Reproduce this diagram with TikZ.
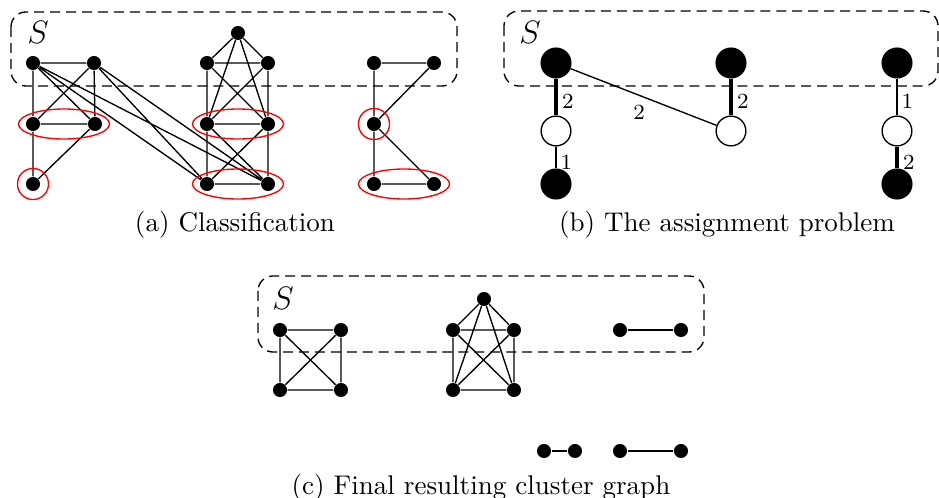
\documentclass[tikz,border=0pt]{standalone}
\usetikzlibrary{shapes.geometric}
\begin{document}
\begin{tikzpicture}[x=0.37pt,y=-0.37pt,
  dot/.style={circle,fill=black,inner sep=0pt,minimum size=5.2pt},
  bigdot/.style={circle,draw=black,fill=black,line width=0.5pt,inner sep=0pt,minimum size=11pt},
  opendot/.style={bigdot,fill=white},
  link/.style={line width=0.5pt},
  heavy/.style={line width=1.6pt},
  setbox/.style={line width=0.5pt,dash pattern=on 3.7pt off 2.2pt,rounded corners=5.5pt},
  classring/.style={ellipse,draw=red,line width=0.5pt,inner sep=0pt},
  wlabel/.style={font=\footnotesize,inner sep=1.5pt},
  setname/.style={font=\large},
]
\useasboundingbox (0,0) rectangle (939,498);

% ---------- (a) Classification ----------
\draw[setbox] (11,12) rectangle (457,86);
\node[setname] (aS) at (38,32) {$S$};

% left group
\node[dot] (a1) at (33,63) {};
\node[dot] (a2) at (94,63) {};
\node[dot] (a3) at (33,124) {};
\node[dot] (a4) at (95,124) {};
\node[dot] (a5) at (33,184) {};
% middle group
\node[dot] (m0) at (238,33) {};
\node[dot] (m1) at (207,63) {};
\node[dot] (m2) at (268,63) {};
\node[dot] (m3) at (207,124) {};
\node[dot] (m4) at (268,124) {};
\node[dot] (m5) at (207,184) {};
\node[dot] (m6) at (268,184) {};
% right group
\node[dot] (r1) at (374,63) {};
\node[dot] (r2) at (434,63) {};
\node[dot] (r3) at (374,124) {};
\node[dot] (r4) at (374,184) {};
\node[dot] (r5) at (434,184) {};

\draw[link] (a1)--(a2) (a1)--(a3) (a2)--(a4) (a2)--(a3) (a1)--(a4)
            (a3)--(a4) (a3)--(a5) (a4)--(a5);
\draw[link] (a1)--(m5) (a1)--(m6) (a2)--(m5) (a2)--(m6);
\draw[link] (m0)--(m1) (m0)--(m2) (m0)--(m3) (m0)--(m4)
            (m1)--(m2) (m1)--(m3) (m2)--(m4) (m1)--(m4) (m2)--(m3)
            (m3)--(m4) (m3)--(m5) (m4)--(m6) (m3)--(m6) (m4)--(m5)
            (m5)--(m6);
\draw[link] (r1)--(r2) (r1)--(r3) (r2)--(r3) (r3)--(r4) (r3)--(r5) (r4)--(r5);

% classes
\node[classring,minimum width=33.7pt,minimum height=11.1pt] (ca1) at (64,124) {};
\node[classring,circle,minimum size=11.5pt] (ca2) at (33,184) {};
\node[classring,minimum width=33.7pt,minimum height=11.1pt] (cm1) at (238,124) {};
\node[classring,minimum width=33.7pt,minimum height=11.1pt] (cm2) at (238,184) {};
\node[classring,circle,minimum size=11.5pt] (cr1) at (374,124) {};
\node[classring,minimum width=33.7pt,minimum height=11.1pt] (cr2) at (404,184) {};

\node (capa) at (235,225) {(a) Classification};

% ---------- (b) The assignment problem ----------
\draw[setbox] (504,11) rectangle (938,86);
\node[setname] (bS) at (530,32) {$S$};

\node[bigdot] (b1) at (556,63) {};
\node[opendot] (b2) at (556,131) {};
\node[bigdot] (b3) at (556,184) {};
\node[bigdot] (b4) at (731,63) {};
\node[opendot] (b5) at (731,131) {};
\node[bigdot] (b6) at (897,63) {};
\node[opendot] (b7) at (897,131) {};
\node[bigdot] (b8) at (897,184) {};

\draw[heavy] (b1) -- node[wlabel,right,pos=0.62] (l1) {2} (b2);
\draw[link] (b2) -- node[wlabel,right,pos=0.7] (l2) {1} (b3);
\draw[link] (b1) -- node[wlabel,below,pos=0.47,yshift=-2pt] (l3) {2} (b5);
\draw[heavy] (b4) -- node[wlabel,right,pos=0.62] (l4) {2} (b5);
\draw[link] (b6) -- node[wlabel,right,pos=0.62] (l5) {1} (b7);
\draw[heavy] (b7) -- node[wlabel,right,pos=0.7] (l6) {2} (b8);

\node (capb) at (727,225) {(b) The assignment problem};

% ---------- (c) Final resulting cluster graph ----------
\draw[setbox] (258,276) rectangle (704,352);
\node[setname] (cS) at (283,298) {$S$};

\node[dot] (q1) at (280,330) {};
\node[dot] (q2) at (341,330) {};
\node[dot] (q3) at (280,390) {};
\node[dot] (q4) at (341,390) {};
\draw[link] (q1)--(q2) (q1)--(q3) (q2)--(q4) (q3)--(q4) (q1)--(q4) (q2)--(q3);

\node[dot] (p0) at (484,299) {};
\node[dot] (p1) at (453,330) {};
\node[dot] (p2) at (514,330) {};
\node[dot] (p3) at (453,390) {};
\node[dot] (p4) at (514,390) {};
\draw[link] (p0)--(p1) (p0)--(p2) (p0)--(p3) (p0)--(p4)
            (p1)--(p2) (p1)--(p3) (p1)--(p4) (p2)--(p3) (p2)--(p4) (p3)--(p4);

\node[dot] (e1) at (620,330) {};
\node[dot] (e2) at (681,330) {};
\draw[link] (e1)--(e2);
\node[dot] (f1) at (544,451) {};
\node[dot] (f2) at (575,451) {};
\draw[link] (f1)--(f2);
\node[dot] (g1) at (620,451) {};
\node[dot] (g2) at (681,451) {};
\draw[link] (g1)--(g2);

\node (capc) at (481,488) {(c) Final resulting cluster graph};
\end{tikzpicture}
\end{document}
